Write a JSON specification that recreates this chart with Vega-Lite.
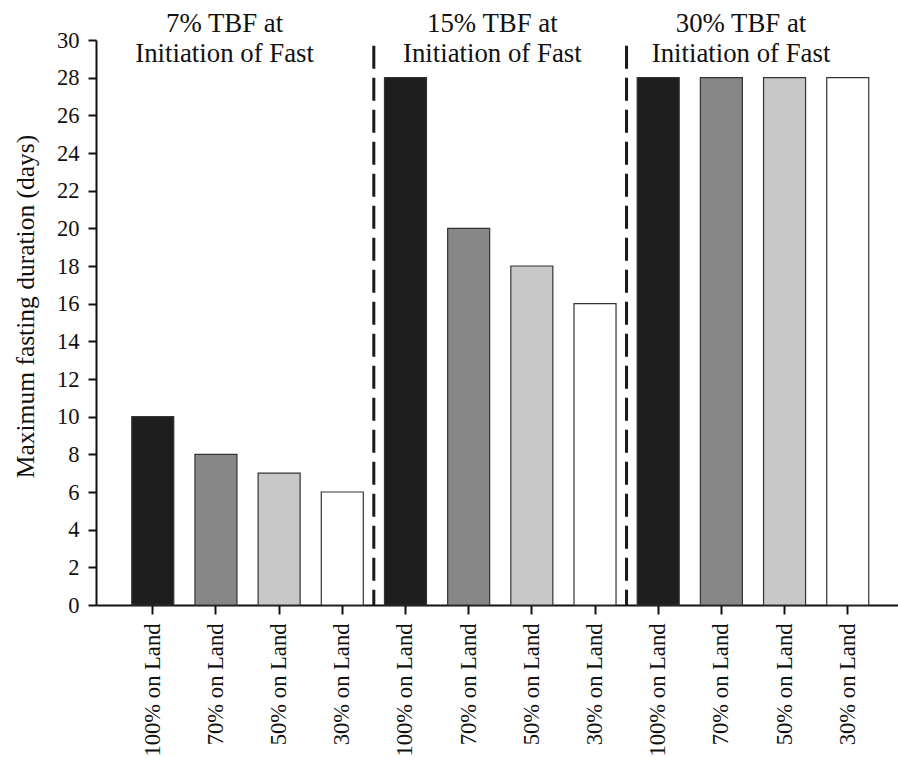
{
  "$schema": "https://vega.github.io/schema/vega-lite/v6.json",
  "width": 802,
  "height": 565,
  "autosize": {"type": "none"},
  "padding": {"left": 96, "top": 40, "right": 0, "bottom": 153},
  "background": "white",
  "config": {
    "view": {"stroke": null},
    "font": "Liberation Serif",
    "axis": {"grid": false, "domainColor": "#111", "domainWidth": 2, "tickColor": "#111", "tickWidth": 2, "labelColor": "#111", "titleColor": "#111", "labelFont": "Liberation Serif", "titleFont": "Liberation Serif"},
    "axisY": {"values": [0, 2, 4, 6, 8, 10, 12, 14, 16, 18, 20, 22, 24, 26, 28, 30], "labelOverlap": false, "labelFontSize": 22.5, "labelPadding": 9, "tickSize": 8, "titleFontSize": 25.5, "titleFontWeight": "normal", "titlePadding": 18, "titleY": 266}
  },
  "data": {
    "values": [
      {"key": "7|100% on Land", "group": "7% TBF at\nInitiation of Fast", "land": "100% on Land", "days": 10},
      {"key": "7|70% on Land", "group": "7% TBF at\nInitiation of Fast", "land": "70% on Land", "days": 8},
      {"key": "7|50% on Land", "group": "7% TBF at\nInitiation of Fast", "land": "50% on Land", "days": 7},
      {"key": "7|30% on Land", "group": "7% TBF at\nInitiation of Fast", "land": "30% on Land", "days": 6},
      {"key": "15|100% on Land", "group": "15% TBF at\nInitiation of Fast", "land": "100% on Land", "days": 28},
      {"key": "15|70% on Land", "group": "15% TBF at\nInitiation of Fast", "land": "70% on Land", "days": 20},
      {"key": "15|50% on Land", "group": "15% TBF at\nInitiation of Fast", "land": "50% on Land", "days": 18},
      {"key": "15|30% on Land", "group": "15% TBF at\nInitiation of Fast", "land": "30% on Land", "days": 16},
      {"key": "30|100% on Land", "group": "30% TBF at\nInitiation of Fast", "land": "100% on Land", "days": 28},
      {"key": "30|70% on Land", "group": "30% TBF at\nInitiation of Fast", "land": "70% on Land", "days": 28},
      {"key": "30|50% on Land", "group": "30% TBF at\nInitiation of Fast", "land": "50% on Land", "days": 28},
      {"key": "30|30% on Land", "group": "30% TBF at\nInitiation of Fast", "land": "30% on Land", "days": 28}
    ]
  },
  "encoding": {
    "x": {
      "field": "key",
      "type": "nominal",
      "sort": null,
      "scale": {"paddingInner": 0.335, "paddingOuter": 0.5145, "align": 0.55},
      "axis": {
        "title": null,
        "labelExpr": "split(datum.label, '|')[1]",
        "labelAngle": -90,
        "labelFontSize": 22.6,
        "labelPadding": 9,
        "tickSize": 9,
        "labelLimit": 300
      }
    }
  },
  "layer": [
    {
      "mark": {"type": "bar", "stroke": "#333", "strokeWidth": 1.2},
      "encoding": {
        "y": {
          "field": "days",
          "type": "quantitative",
          "scale": {"domain": [0, 30], "nice": false},
          "axis": {"title": "Maximum fasting duration (days)", "values": [0, 2, 4, 6, 8, 10, 12, 14, 16, 18, 20, 22, 24, 26, 28, 30], "labelOverlap": false}
        },
        "color": {
          "field": "land",
          "type": "nominal",
          "scale": {"domain": ["100% on Land", "70% on Land", "50% on Land", "30% on Land"], "range": ["#1e1e1e", "#878787", "#c8c8c8", "#ffffff"]},
          "legend": null
        }
      }
    },
    {
      "transform": [{"filter": "datum.land === '30% on Land' && datum.key !== '30|30% on Land'"}],
      "mark": {"type": "rule", "strokeDash": [23, 9], "strokeWidth": 3, "color": "#1a1a1a"},
      "encoding": {
        "x": {"field": "key", "type": "nominal", "sort": null, "bandPosition": 1.25},
        "y": {"datum": 29.7, "type": "quantitative", "axis": {"title": "Maximum fasting duration (days)", "values": [0, 2, 4, 6, 8, 10, 12, 14, 16, 18, 20, 22, 24, 26, 28, 30], "labelOverlap": false}},
        "y2": {"datum": 0}
      }
    },
    {
      "transform": [{"filter": "datum.key === '7|70% on Land'"}],
      "mark": {"type": "text", "fontSize": 26.8, "font": "Liberation Serif", "lineBreak": "\n", "lineHeight": 30, "align": "center", "baseline": "alphabetic", "dx": -22, "dy": -8, "color": "#111"},
      "encoding": {
        "x": {"field": "key", "type": "nominal", "sort": null, "bandPosition": 1.23},
        "y": {"datum": 30, "type": "quantitative", "axis": {"title": "Maximum fasting duration (days)", "values": [0, 2, 4, 6, 8, 10, 12, 14, 16, 18, 20, 22, 24, 26, 28, 30], "labelOverlap": false}},
        "text": {"field": "group"}
      }
    },
    {
      "transform": [{"filter": "datum.key === '15|70% on Land'"}],
      "mark": {"type": "text", "fontSize": 26.8, "font": "Liberation Serif", "lineBreak": "\n", "lineHeight": 30, "align": "center", "baseline": "alphabetic", "dx": -7, "dy": -8, "color": "#111"},
      "encoding": {
        "x": {"field": "key", "type": "nominal", "sort": null, "bandPosition": 1.23},
        "y": {"datum": 30, "type": "quantitative", "axis": {"title": "Maximum fasting duration (days)", "values": [0, 2, 4, 6, 8, 10, 12, 14, 16, 18, 20, 22, 24, 26, 28, 30], "labelOverlap": false}},
        "text": {"field": "group"}
      }
    },
    {
      "transform": [{"filter": "datum.key === '30|70% on Land'"}],
      "mark": {"type": "text", "fontSize": 26.8, "font": "Liberation Serif", "lineBreak": "\n", "lineHeight": 30, "align": "center", "baseline": "alphabetic", "dx": -11, "dy": -8, "color": "#111"},
      "encoding": {
        "x": {"field": "key", "type": "nominal", "sort": null, "bandPosition": 1.23},
        "y": {"datum": 30, "type": "quantitative", "axis": {"title": "Maximum fasting duration (days)", "values": [0, 2, 4, 6, 8, 10, 12, 14, 16, 18, 20, 22, 24, 26, 28, 30], "labelOverlap": false}},
        "text": {"field": "group"}
      }
    }
  ]
}
